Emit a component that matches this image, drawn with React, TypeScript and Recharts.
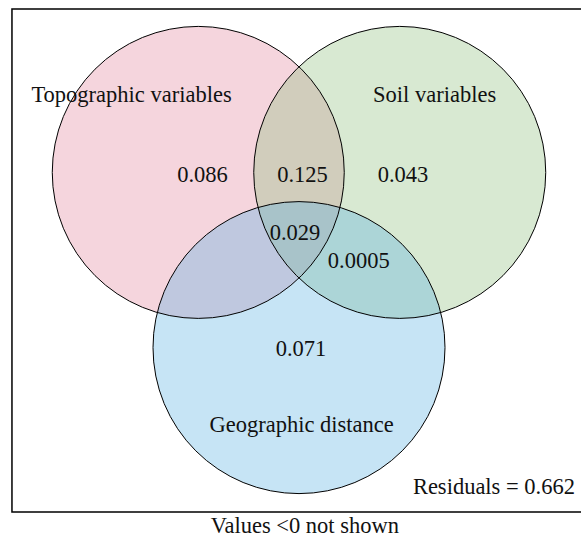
import { ScatterChart, Scatter, XAxis, YAxis, ReferenceArea } from 'recharts';

// variance partitioning (vegan varpart style), coordinates in circle-radius units
const setNames = ['Topographic variables', 'Soil variables', 'Geographic distance'];
const setX = [-0.69, 0.69, 0];
const setY = [0.6, 0.6, -0.6];
const setR = [1, 1, 1];
const setColors = ['#e2879e', '#90c07e', '#5cb2e2'];

const nameX = [-1.147, 0.929, 0.018];
const nameY = [1.082, 1.084, -1.176];

const fractions = ['0.086', '0.125', '0.043', '0.029', '0.0005', '0.071'];
const fracX = [-0.661, 0.024, 0.712, -0.027, 0.409, 0.014];
const fracY = [0.536, 0.536, 0.536, 0.137, -0.053, -0.655];

const residuals = 0.662;
const footnote = 'Values <0 not shown';

const W = 581;
const H = 538;
const PX = 146; // pixels per unit
const OX = 299;
const OY = 260;

const circles = setNames.map((name, i) => ({ name, x: setX[i], y: setY[i], r: setR[i], color: setColors[i] }));
const names = setNames.map((label, i) => ({ label, x: nameX[i], y: nameY[i] }));
const fracs = fractions.map((label, i) => ({ label, x: fracX[i], y: fracY[i] }));
const resid = [{ label: `Residuals = ${residuals.toFixed(3)}`, x: 1.89, y: -1.605 }];
const foot = [{ label: footnote, x: 0.04, y: -1.87 }];

const font = '"Liberation Serif", "Times New Roman", serif';

const Fill = (p: any) => (
  <circle cx={p.cx} cy={p.cy} r={p.payload.r * PX} fill={p.payload.color} fillOpacity={0.35} stroke="none" />
);
const Outline = (p: any) => (
  <circle cx={p.cx} cy={p.cy} r={p.payload.r * PX} fill="none" stroke="#000" strokeWidth={1} />
);
const textShape = (anchor: string) => (p: any) => (
  <text x={p.cx} y={p.cy} textAnchor={anchor} fontFamily={font} fontSize={22.5} fill="#111">
    {p.payload.label}
  </text>
);

export default function App() {
  return (
    <div style={{ position: 'absolute', left: 0, top: 0, background: '#fff' }}>
      <ScatterChart width={W} height={H} margin={{ top: 0, right: 0, bottom: 0, left: 0 }}>
        <XAxis type="number" dataKey="x" hide domain={[-OX / PX, (W - OX) / PX]} allowDataOverflow />
        <YAxis type="number" dataKey="y" hide domain={[-(H - OY) / PX, OY / PX]} allowDataOverflow />
        <ReferenceArea x1={-1.966} x2={2.1} y1={-1.726} y2={1.719} fill="none" stroke="#000" strokeWidth={1.5} ifOverflow="visible" />
        <Scatter data={circles} shape={Fill} isAnimationActive={false} />
        <Scatter data={circles} shape={Outline} isAnimationActive={false} />
        <Scatter data={names} shape={textShape('middle')} isAnimationActive={false} />
        <Scatter data={fracs} shape={textShape('middle')} isAnimationActive={false} />
        <Scatter data={resid} shape={textShape('end')} isAnimationActive={false} />
        <Scatter data={foot} shape={textShape('middle')} isAnimationActive={false} />
      </ScatterChart>
    </div>
  );
}
